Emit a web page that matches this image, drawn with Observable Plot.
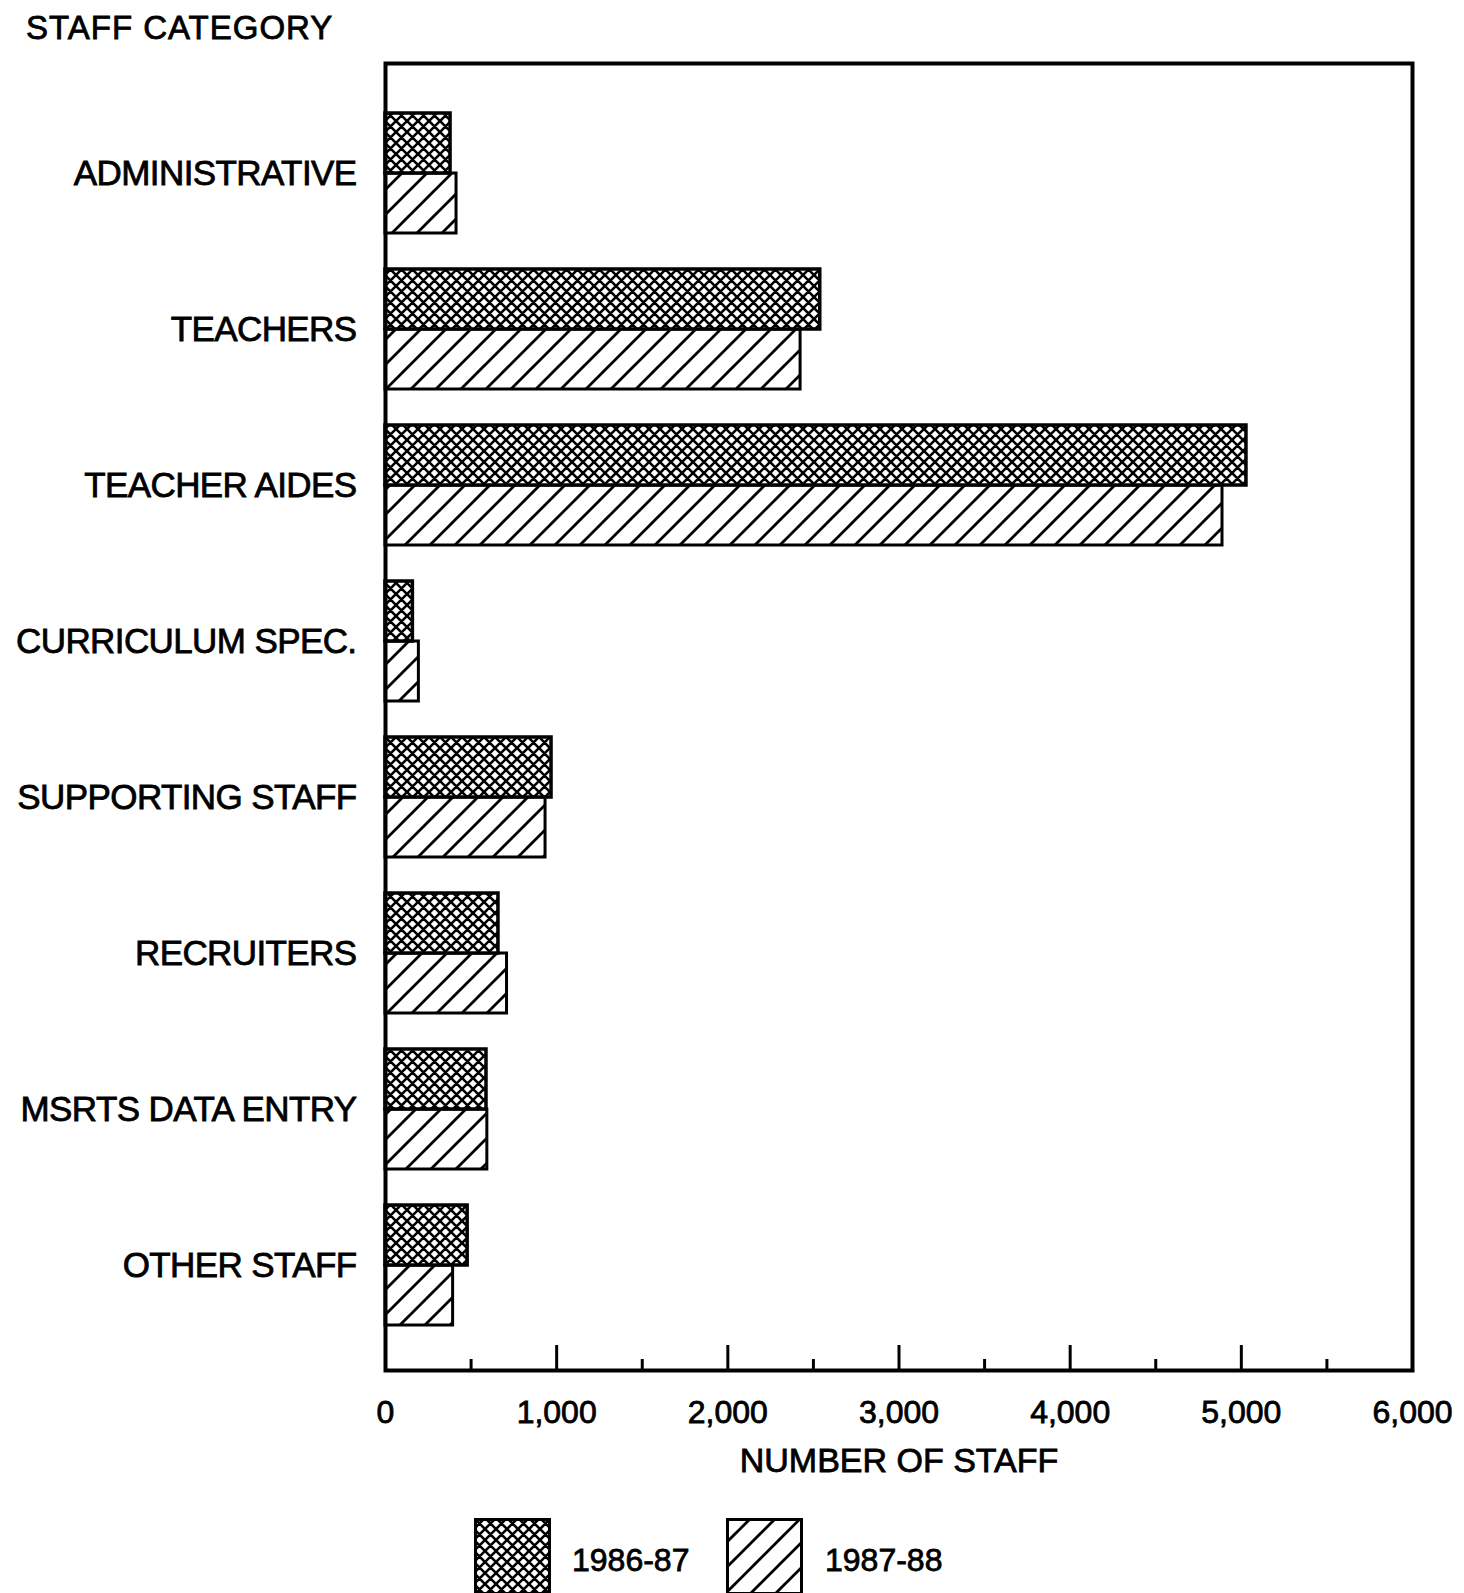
<!DOCTYPE html>
<html>
<head>
<meta charset="utf-8">
<script src="https://cdn.jsdelivr.net/npm/d3@7"></script>
<script src="https://cdn.jsdelivr.net/npm/@observablehq/plot@0.6"></script>
<style>
  body { margin: 0; background: #fff; }
  #wrap { position: relative; width: 1464px; height: 1593px; overflow: hidden; background: #fff;
          font-family: "Liberation Sans", Arial, Helvetica, sans-serif; color: #000; }
  #title { position: absolute; z-index: 2; left: 26px; top: 11px; font-size: 33px; line-height: 1; letter-spacing: 1px; white-space: nowrap; -webkit-text-stroke: 0.8px #000; }
  #chart { position: absolute; z-index: 1; left: 0; top: 0; }
  #chart svg text { stroke: #000; stroke-width: 0.8px; }
  #chart svg g[aria-label="y-axis tick label"] text { letter-spacing: -0.6px; }
  .sw { position: absolute; z-index: 2; }
  .lg { position: absolute; z-index: 2; font-size: 32px; line-height: 1; white-space: nowrap; -webkit-text-stroke: 0.8px #000; }
</style>
</head>
<body>
<div id="wrap">
  <div id="title"></div>
  <div id="chart"></div>
</div>
<script>
// ---- data ----
const categories = ["ADMINISTRATIVE", "TEACHERS", "TEACHER AIDES", "CURRICULUM SPEC.",
  "SUPPORTING STAFF", "RECRUITERS", "MSRTS DATA ENTRY", "OTHER STAFF"];
const years = ["1986-87", "1987-88"];
const staff1986 = [380, 2540, 5030, 160, 970, 660, 590, 480];
const staff1987 = [415, 2425, 4890, 195, 935, 710, 595, 395];
const xTickLabels = [0, 1000, 2000, 3000, 4000, 5000, 6000];
const majorTicks = [1000, 2000, 3000, 4000, 5000];
const minorTicks = [500, 1500, 2500, 3500, 4500, 5500];
const titleText = "STAFF CATEGORY";
const xLabel = "NUMBER OF STAFF";

const rows = categories.flatMap((c, i) => [
  {category: c, year: years[0], value: staff1986[i]},
  {category: c, year: years[1], value: staff1987[i]}
]);

function patterns(suffix) {
  return `
  <pattern id="cross${suffix}" patternUnits="userSpaceOnUse" width="11" height="11">
    <rect width="11" height="11" fill="#fff"/>
    <path d="M-2,2L2,-2M0,11L11,0M9,13L13,9M-2,9L2,13M0,0L11,11M9,-2L13,2" stroke="#000" stroke-width="2.6" fill="none"/>
  </pattern>
  <pattern id="hatch${suffix}" patternUnits="userSpaceOnUse" width="25" height="25">
    <rect width="25" height="25" fill="#fff"/>
    <path d="M-5,5L5,-5M0,25L25,0M20,30L30,20" stroke="#000" stroke-width="2.8" fill="none"/>
  </pattern>`;
}

const marginTop = 63, frameBottom = 1370, marginBottom = 110;
const frameH = frameBottom - marginTop;

const chart = Plot.plot({
  width: 1464,
  height: frameBottom + marginBottom,
  marginTop,
  marginBottom,
  marginLeft: 385,
  marginRight: 52,
  style: {fontFamily: '"Liberation Sans", Arial, Helvetica, sans-serif', color: "#000", background: "transparent", overflow: "visible"},
  x: {domain: [0, 6000]},
  y: {type: "band", domain: categories, range: [113, 1325], paddingInner: 0.2308, paddingOuter: 0, align: 0.5},
  marks: [
    () => { const d = d3.create("svg:defs"); d.html(patterns("")); return d.node(); },
    Plot.barX(rows.filter(d => d.year === years[1]), {
      x: "value", y: "category", insetTop: 60, fill: "url(#hatch)", stroke: "#000", strokeWidth: 3
    }),
    Plot.barX(rows.filter(d => d.year === years[0]), {
      x: "value", y: "category", insetBottom: 60, fill: "url(#cross)", stroke: "#000", strokeWidth: 3.5
    }),
    Plot.ruleX(majorTicks, {x: d => d, insetTop: frameH - 25, strokeWidth: 3, stroke: "#000"}),
    Plot.ruleX(minorTicks, {x: d => d, insetTop: frameH - 11, strokeWidth: 3, stroke: "#000"}),
    Plot.frame({stroke: "#000", strokeWidth: 4}),
    Plot.axisY({tickSize: 0, tickPadding: 29, fontSize: 35, label: null}),
    Plot.axisX({ticks: xTickLabels, tickFormat: d3.format(","), tickSize: 0, tickPadding: 30, fontSize: 32, label: null}),
    Plot.text([xLabel], {text: d => d, frameAnchor: "bottom", dy: 91, lineAnchor: "middle", fontSize: 34})
  ]
});
document.getElementById("chart").append(chart);
document.getElementById("title").textContent = titleText;

// ---- legend ----
const wrap = d3.select("#wrap");
const legendItems = [
  {label: years[0], fill: "url(#crossL)", sx: 474, tx: 572},
  {label: years[1], fill: "url(#hatchL)", sx: 726, tx: 825}
];
legendItems.forEach((it, i) => {
  const s = wrap.append("svg").attr("class", "sw")
    .style("left", it.sx + "px").style("top", "1518px")
    .attr("width", 77).attr("height", 77);
  if (i === 0) s.append("defs").html(patterns("L"));
  s.append("rect").attr("x", 1.5).attr("y", 1.5).attr("width", 74).attr("height", 74)
    .attr("fill", it.fill).attr("stroke", "#000").attr("stroke-width", 3);
  wrap.append("div").attr("class", "lg")
    .style("left", it.tx + "px").style("top", "1544px").text(it.label);
});
</script>
</body>
</html>
